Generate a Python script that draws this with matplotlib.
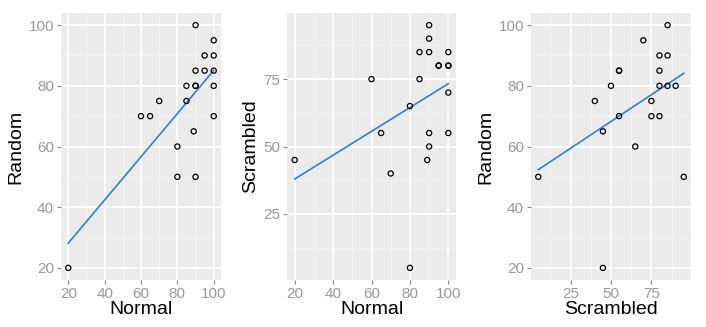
import numpy as np
import matplotlib
matplotlib.use("Agg")
import matplotlib.pyplot as plt

plt.rcParams['font.family'] = ['Liberation Sans', 'DejaVu Sans']

normal = [20, 60, 65, 70, 80, 80, 85, 85, 89, 90, 90, 90, 90, 90, 95, 95, 100, 100, 100, 100, 100]
scrambled = [45, 75, 55, 40, 65, 5, 85, 75, 45, 95, 90, 50, 85, 55, 80, 80, 70, 80, 80, 85, 55]
random_ = [20, 70, 70, 75, 60, 50, 80, 75, 65, 50, 80, 80, 100, 85, 90, 85, 95, 80, 70, 90, 85]

panels = [
    ("Normal", "Random", normal, random_, [20, 40, 60, 80, 100], [20, 40, 60, 80, 100]),
    ("Normal", "Scrambled", normal, scrambled, [20, 40, 60, 80, 100], [25, 50, 75]),
    ("Scrambled", "Random", scrambled, random_, [25, 50, 75], [20, 40, 60, 80, 100]),
]

W, H = 706, 327
fig = plt.figure(figsize=(W / 100, H / 100), dpi=100)
boxes = [(61, 221), (287, 456), (531, 691)]
top, bottom = 13, 280

bg = "#EBEBEB"
tick_col = "#8A8A8A"
line_col = "#2E7FD9"

for (xl, yl, xs, ys, xt, yt), (x0, x1) in zip(panels, boxes):
    ax = fig.add_axes([x0 / W, 1 - bottom / H, (x1 - x0) / W, (bottom - top) / H])
    ax.set_facecolor(bg)
    xs = np.array(xs, float)
    ys = np.array(ys, float)
    xr = xs.max() - xs.min()
    yr = ys.max() - ys.min()
    ax.set_xlim(xs.min() - 0.05 * xr, xs.max() + 0.05 * xr)
    ax.set_ylim(ys.min() - 0.05 * yr, ys.max() + 0.05 * yr)
    ax.set_xticks(xt)
    ax.set_yticks(yt)
    xm = [(a + b) / 2 for a, b in zip(xt[:-1], xt[1:])]
    ym = [(a + b) / 2 for a, b in zip(yt[:-1], yt[1:])]
    xstep = xt[1] - xt[0]
    ystep = yt[1] - yt[0]
    xm = [xt[0] - xstep / 2] + xm + [xt[-1] + xstep / 2]
    ym = [yt[0] - ystep / 2] + ym + [yt[-1] + ystep / 2]
    for v in xm:
        ax.axvline(v, color="#F4F4F4", lw=0.6, zorder=0.5)
    for v in ym:
        ax.axhline(v, color="#F4F4F4", lw=0.6, zorder=0.5)
    for v in xt:
        ax.axvline(v, color="white", lw=1.2, zorder=0.6)
    for v in yt:
        ax.axhline(v, color="white", lw=1.2, zorder=0.6)
    for s in ax.spines.values():
        s.set_visible(False)
    ax.tick_params(axis="both", colors=tick_col, labelcolor="#999999", labelsize=11,
                   length=3, width=0.8, pad=2)
    ax.set_xlabel(xl, fontsize=14, color="black", labelpad=0)
    ax.set_ylabel(yl, fontsize=14, color="black", labelpad=3)
    slope, icpt = np.polyfit(xs, ys, 1)
    lx = np.array([xs.min(), xs.max()])
    ax.plot(lx, slope * lx + icpt, color=line_col, lw=1.2, zorder=2)
    ax.scatter(xs, ys, s=14, facecolors="none", edgecolors="black", linewidths=0.9, zorder=3)

fig.savefig("out.png", dpi=100)
